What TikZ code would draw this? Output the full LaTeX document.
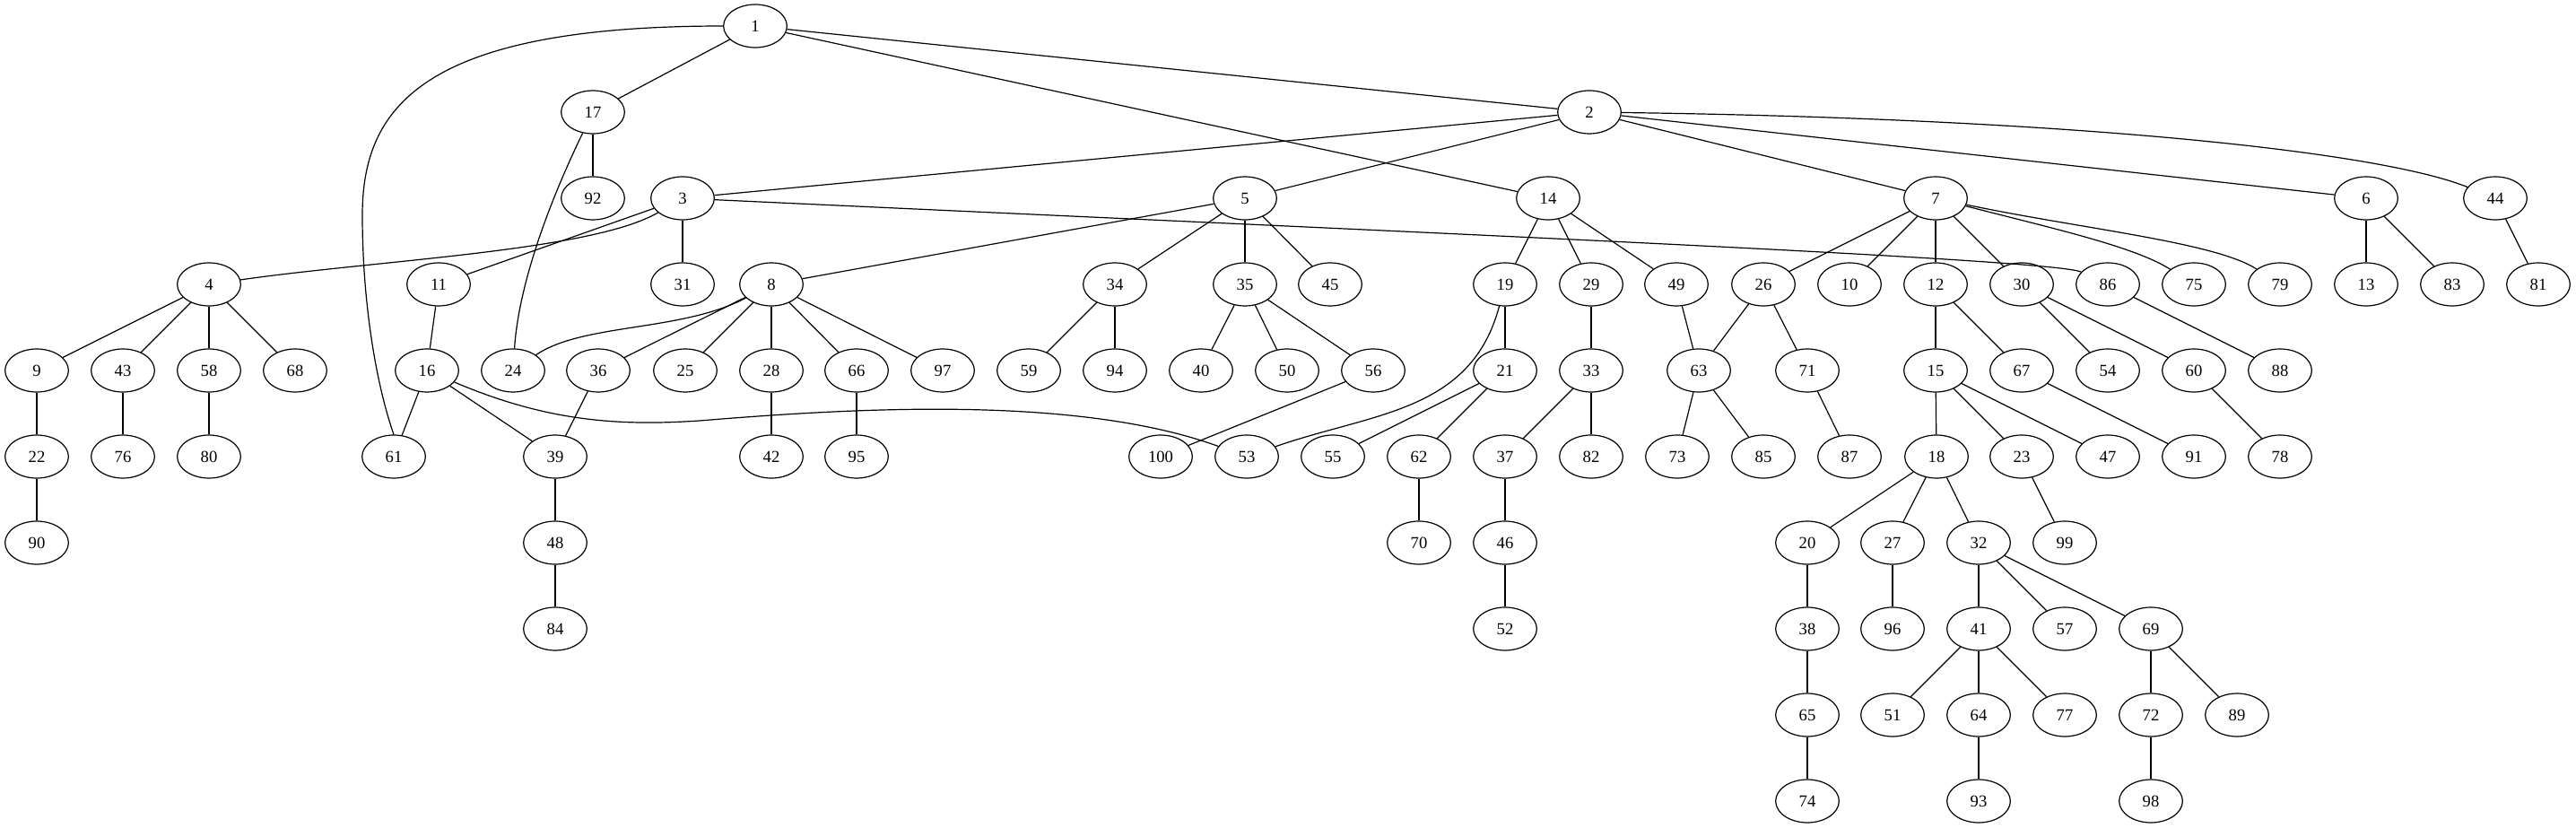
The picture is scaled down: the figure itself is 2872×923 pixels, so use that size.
\documentclass[tikz,border=0pt]{standalone}
\usepackage{fontspec}
\setmainfont{Liberation Serif}
\usetikzlibrary{shapes.geometric}
\begin{document}
\begin{tikzpicture}[x=0.75pt,y=-0.75pt,
  nd/.style={ellipse,draw,line width=0.9pt,minimum width=53pt,minimum height=36pt,inner sep=0pt,font=\fontsize{14}{16}\selectfont},
  ed/.style={line width=0.9pt}]
\useasboundingbox (0,0) rectangle (2872,923);
\foreach \n/\x/\y in {1/842/29,
 17/661/125, 2/1772/125,
 92/661/221, 3/761/221, 5/1388/221, 14/1726/221, 7/2158/221, 6/2638/221, 44/2782/221,
 4/233/317, 11/489/317, 31/761/317, 8/860/317, 34/1243/317, 35/1388/317, 45/1483/317, 19/1678/317, 29/1774/317, 49/1869/317, 26/1966/317, 10/2062/317, 12/2158/317, 30/2254/317, 86/2350/317, 75/2446/317, 79/2542/317, 13/2638/317, 83/2734/317, 81/2830/317,
 9/41/413, 43/137/413, 58/233/413, 68/329/413, 16/476/413, 24/572/413, 36/667/413, 25/764/413, 28/860/413, 66/955/413, 97/1051/413, 59/1147/413, 94/1243/413, 40/1339/413, 50/1435/413, 56/1531/413, 21/1678/413, 33/1774/413, 63/1894/413, 71/2015/413, 15/2158/413, 67/2254/413, 54/2350/413, 60/2446/413, 88/2542/413,
 22/41/509, 76/137/509, 80/233/509, 61/439/509, 39/619/509, 42/860/509, 95/955/509, 100/1294/509, 53/1390/509, 55/1486/509, 62/1582/509, 37/1678/509, 82/1774/509, 73/1870/509, 85/1966/509, 87/2062/509, 18/2159/509, 23/2254/509, 47/2350/509, 91/2446/509, 78/2542/509,
 90/41/605, 48/619/605, 70/1582/605, 46/1678/605, 20/2015/605, 27/2110/605, 32/2206/605, 99/2302/605,
 84/619/701, 52/1678/701, 38/2015/701, 96/2110/701, 41/2206/701, 57/2302/701, 69/2398/701,
 65/2015/797, 51/2110/797, 64/2206/797, 77/2302/797, 72/2398/797, 89/2494/797,
 74/2015/893, 93/2206/893, 98/2398/893}
  \node[nd] (n\n) at (\x,\y) {\n};
\foreach \a/\b in {1/17, 1/2, 1/14, 17/92, 2/3, 2/5, 2/7, 2/6, 3/11, 3/31,
 5/8, 5/34, 5/35, 5/45, 14/19, 14/29, 14/49, 7/26, 7/10, 7/12, 7/30,
 6/13, 6/83, 44/81, 4/9, 4/43, 4/58, 4/68, 11/16, 8/36, 8/25, 8/28, 8/66, 8/97,
 34/59, 34/94, 35/40, 35/50, 35/56, 19/21, 29/33, 49/63, 26/63, 26/71, 12/15, 12/67,
 30/54, 30/60, 86/88, 9/22, 43/76, 58/80, 16/61, 16/39, 36/39, 28/42, 66/95, 56/100,
 21/55, 21/62, 33/37, 33/82, 63/73, 63/85, 71/87, 15/18, 15/23, 15/47, 67/91, 60/78,
 22/90, 39/48, 62/70, 37/46, 18/20, 18/27, 18/32, 23/99, 48/84, 46/52, 20/38, 27/96,
 32/41, 32/57, 32/69, 38/65, 41/51, 41/64, 41/77, 69/72, 69/89, 65/74, 64/93, 72/98}
  \draw[ed] (n\a) -- (n\b);
\draw[ed] (n1.west) .. controls (470,29) and (404,120) .. (404,240) .. controls (404,340) and (420,430) .. (n61.north);
\draw[ed] (n17) .. controls (610,230) and (578,320) .. (n24);
\draw[ed] (n3) .. controls (660,280) and (420,290) .. (n4);
\draw[ed] (n3) .. controls (1600,260) and (2290,289) .. (n86);
\draw[ed] (n2) .. controls (2300,132) and (2650,168) .. (n44);
\draw[ed] (n7) .. controls (2290,255) and (2380,275) .. (n75);
\draw[ed] (n7) .. controls (2320,255) and (2470,270) .. (n79);
\draw[ed] (n8) .. controls (760,370) and (650,360) .. (n24);
\draw[ed] (n16) .. controls (610,470) and (690,475) .. (780,469) .. controls (950,455) and (1200,440) .. (n53);
\draw[ed] (n19) .. controls (1640,460) and (1530,460) .. (n53);
\end{tikzpicture}
\end{document}
